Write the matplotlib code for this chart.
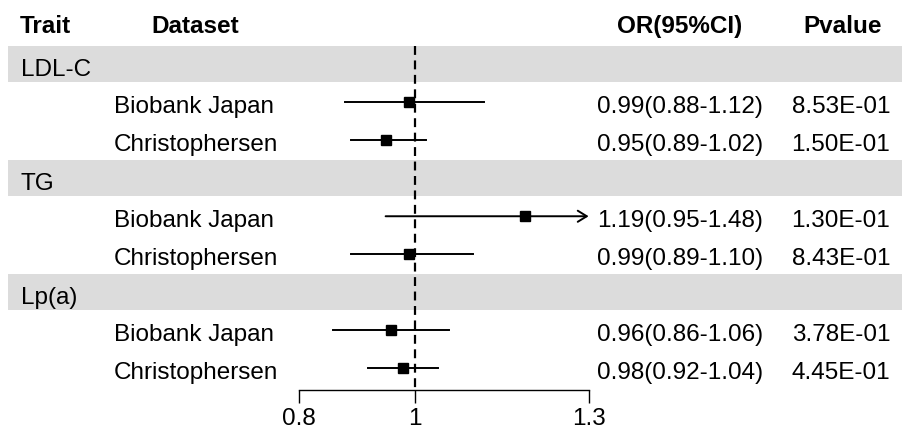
import matplotlib
matplotlib.use("Agg")
import matplotlib.pyplot as plt
import matplotlib.transforms as mtransforms

plt.rcParams['font.family'] = ['Liberation Sans', 'DejaVu Sans']

# forest plot data
traits = ["LDL-C", "TG", "Lp(a)"]
datasets = ["Biobank Japan", "Christophersen"]
or_vals = [0.99, 0.95, 1.19, 0.99, 0.96, 0.98]
ci_low = [0.88, 0.89, 0.95, 0.89, 0.86, 0.92]
ci_high = [1.12, 1.02, 1.48, 1.10, 1.06, 1.04]
pvals = ["8.53E-01", "1.50E-01", "1.30E-01", "8.43E-01", "3.78E-01", "4.45E-01"]
xticks = [0.8, 1, 1.3]
xtick_labels = ["0.8", "1", "1.3"]
x_clip = (0.8, 1.3)

W, H = 903, 431
FS = 17.5

fig = plt.figure(figsize=(W / 100, H / 100), dpi=100)
ax = fig.add_axes([0, 0, 1, 1])
ax.set_xlim(0.2852, 1.842)
ax.set_ylim(9.616, -1.708)

# x in pixels, y in rows
trans = mtransforms.blended_transform_factory(ax.transAxes, ax.transData)
def px(x):
    return x / W

base = 0.25  # baseline offset below row centre

# header
hdr = dict(fontsize=FS, fontweight='bold', transform=trans, va='baseline')
ax.text(px(20), -1 + 0.16, "Trait", ha='left', **hdr)
ax.text(px(151), -1 + 0.16, "Dataset", ha='left', **hdr)
ax.text(px(680), -1 + 0.16, "OR(95%CI)", ha='center', **hdr)
ax.text(px(843), -1 + 0.16, "Pvalue", ha='center', **hdr)

row = 0
k = 0
for t in traits:
    ax.axhspan(row - 0.47, row + 0.47, xmin=px(8), xmax=1, color='#dcdcdc', lw=0, zorder=0)
    ax.text(px(21), row + base + 0.04, t, fontsize=FS, transform=trans, ha='left', va='baseline')
    row += 1
    for d in datasets:
        ax.text(px(114), row + base, d, fontsize=FS, transform=trans, ha='left', va='baseline')
        lab = f"{or_vals[k]:.2f}({ci_low[k]:.2f}-{ci_high[k]:.2f})"
        ax.text(px(680), row + base, lab, fontsize=FS, transform=trans, ha='center', va='baseline')
        ax.text(px(841), row + base, pvals[k], fontsize=FS, transform=trans, ha='center', va='baseline')
        lo = max(ci_low[k], x_clip[0])
        hi = min(ci_high[k], x_clip[1])
        if ci_high[k] > x_clip[1]:
            ax.annotate("", xy=(hi, row), xytext=(lo, row),
                        arrowprops=dict(arrowstyle='->,head_length=0.65,head_width=0.4',
                                        lw=1.4, color='black', shrinkA=0, shrinkB=0,
                                        mutation_scale=10), zorder=2)
        else:
            ax.plot([lo, hi], [row, row], color='black', lw=1.4, zorder=2)
        ax.plot(or_vals[k], row, marker='s', ms=6.5, color='black', zorder=3)
        row += 1
        k += 1

axis_y = 8.565
ax.plot([1, 1], [-0.47, axis_y], color='black', lw=1.6, ls=(0, (4, 2.5)), zorder=1)

for s in ['top', 'left', 'right']:
    ax.spines[s].set_visible(False)
ax.spines['bottom'].set_position(('data', axis_y))
ax.spines['bottom'].set_bounds(*x_clip)
ax.spines['bottom'].set_linewidth(1.0)
ax.set_xticks(xticks)
ax.set_xticklabels(xtick_labels, fontsize=FS)
ax.tick_params(axis='x', direction='out', length=9.4, width=1.0, pad=2.5)
ax.set_yticks([])
ax.patch.set_visible(False)

fig.savefig('out.png', dpi=100)
